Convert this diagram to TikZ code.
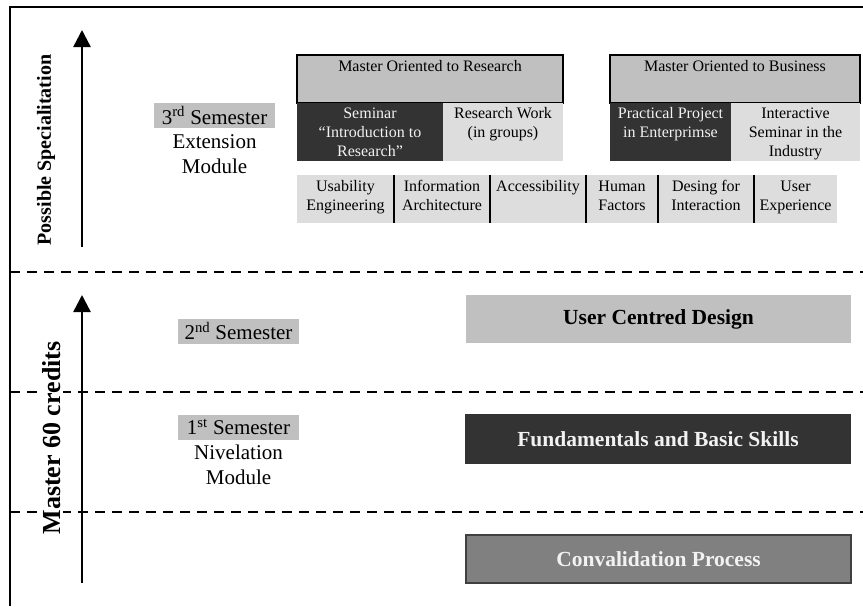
\documentclass[tikz,border=0pt]{standalone}
\usepackage{fontspec}
\setmainfont{Liberation Serif}
\usetikzlibrary{arrows.meta}
\definecolor{lg}{HTML}{C0C0C0}
\definecolor{vlg}{HTML}{DDDDDD}
\definecolor{dk}{HTML}{333333}
\definecolor{md}{HTML}{808080}
\definecolor{mdb}{HTML}{404040}
\definecolor{wt}{HTML}{F2F2F2}
\begin{document}
\begin{tikzpicture}[x=1pt,y=-1pt,
  master/.style={rectangle, draw=black, line width=2pt, fill=lg, inner sep=3pt,
    font=\fontsize{16}{19}\selectfont, text height=13.5pt, text depth=28.5pt},
  midcell/.style={rectangle, inner sep=3pt, align=center, minimum height=58pt,
    font=\fontsize{16}{19}\selectfont},
  midtwo/.style={midcell, text height=31pt, text depth=21pt},
  midthree/.style={midcell, text height=50pt, text depth=2pt},
  darkcell/.style={fill=dk, text=wt},
  lightcell/.style={fill=vlg},
  topic/.style={rectangle, inner sep=3pt, align=center, fill=vlg, minimum height=48pt,
    font=\fontsize{16}{19}\selectfont},
  topicone/.style={topic, text height=13pt, text depth=29pt},
  topictwo/.style={topic, text height=32pt, text depth=10pt},
  divider/.style={line width=2.5pt, black},
  semlabel/.style={rectangle, fill=lg, inner sep=0pt, minimum width=121pt, minimum height=25pt,
    font=\fontsize{21}{25}\selectfont},
  modlabel/.style={align=center, inner sep=0pt, font=\fontsize{21}{25}\selectfont},
  bigbox/.style={rectangle, inner sep=0pt, minimum width=385pt, minimum height=48pt,
    font=\fontsize{21.5}{25}\selectfont\bfseries},
  bigarrow/.style={line width=2.5pt, -{Triangle[width=17pt,length=17pt]}},
  sepline/.style={line width=2pt, dash pattern=on 10pt off 7pt},
  frameline/.style={line width=1.5pt},
  sidelabel/.style={rotate=90, inner sep=0pt}
]
\useasboundingbox (0,0) rectangle (863,606);

% frame
\coordinate (fbl) at (10,606);
\coordinate (ftl) at (10,7);
\coordinate (ftr) at (863,7);
\draw[frameline] (fbl) -- (ftl) -- (ftr);

% dashed separators
\coordinate (d1l) at (10,272); \coordinate (d1r) at (863,272);
\coordinate (d2l) at (10,392); \coordinate (d2r) at (863,392);
\coordinate (d3l) at (10,512); \coordinate (d3r) at (863,512);
\draw[sepline] (d1l) -- (d1r);
\draw[sepline] (d2l) -- (d2r);
\draw[sepline] (d3l) -- (d3r);

% arrows
\coordinate (a1s) at (82,247); \coordinate (a1e) at (82,30);
\coordinate (a2s) at (82,583); \coordinate (a2e) at (82,295);
\draw[bigarrow] (a1s) -- (a1e);
\draw[bigarrow] (a2s) -- (a2e);

% side labels
\node[sidelabel, font=\fontsize{20}{25}\selectfont\bfseries] (ps) at (46,150) {Possible Specialitation};
\node[sidelabel, fill=white, inner xsep=1pt, inner ysep=2pt, font=\fontsize{26}{30}\selectfont\bfseries] (m60) at (52,438) {Master 60 credits};

% semester labels
\node[semlabel] (s3) at (214.5,115.5) {3\textsuperscript{rd} Semester};
\node[modlabel] (e3) at (214.5,154) {Extension\\Module};
\node[semlabel] (s2) at (238.5,331) {2\textsuperscript{nd} Semester};
\node[semlabel] (s1) at (238.5,427) {1\textsuperscript{st} Semester};
\node[modlabel] (n1) at (238.5,464.5) {Nivelation\\Module};

% masters
\node[master, minimum width=266pt, minimum height=48pt] (mr) at (430,79) {Master Oriented to Research};
\node[master, minimum width=250pt, minimum height=48pt] (mb) at (735,79) {Master Oriented to Business};

\node[midthree, darkcell, minimum width=146pt] (sem) at (370,132) {Seminar\\``Introduction to\\Research''};
\node[midtwo, lightcell, minimum width=120pt] (rw) at (503,132) {Research Work\\(in groups)};
\node[midtwo, darkcell, minimum width=121pt] (pp) at (670.5,132) {Practical Project\\in Enterprimse};
\node[midthree, lightcell, minimum width=129pt] (is) at (795.5,132) {Interactive\\Seminar in the\\Industry};

% topics
\node[topictwo, minimum width=97pt] (ue) at (345.5,199) {Usability\\Engineering};
\node[topictwo, minimum width=96pt] (ia) at (442,199) {Information\\Architecture};
\node[topicone, minimum width=96pt] (acc) at (538,199) {Accessibility};
\node[topictwo, minimum width=72pt] (hf) at (622,199) {Human\\Factors};
\node[topictwo, minimum width=96pt] (di) at (706,199) {Desing for\\Interaction};
\node[topictwo, minimum width=83pt] (ux) at (795.5,199) {User\\Experience};
\draw[divider] (ue.north east) -- (ue.south east);
\draw[divider] (ia.north east) -- (ia.south east);
\draw[divider] (acc.north east) -- (acc.south east);
\draw[divider] (hf.north east) -- (hf.south east);
\draw[divider] (di.north east) -- (di.south east);

% main blocks
\node[bigbox, fill=lg] (ucd) at (658.5,319) {User Centred Design};
\node[bigbox, fill=dk, text=wt, minimum width=386pt, minimum height=50pt] (fb) at (658,439) {Fundamentals and Basic Skills};
\node[bigbox, fill=md, draw=mdb, line width=1.5pt, text=wt] (cp) at (658.5,559) {Convalidation Process};
\end{tikzpicture}
\end{document}
